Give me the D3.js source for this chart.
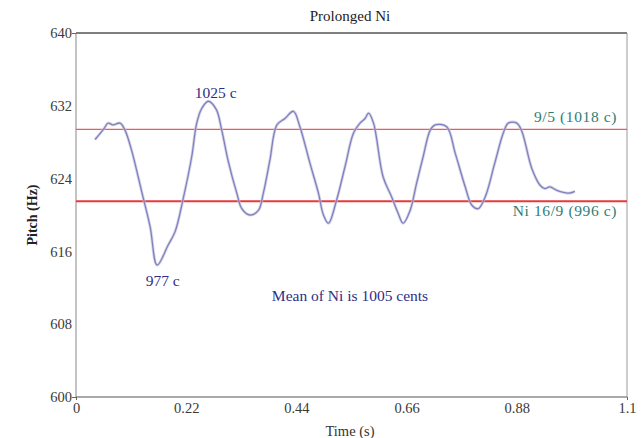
<!DOCTYPE html>
<html><head><meta charset="utf-8">
<script src="https://cdn.jsdelivr.net/npm/d3@7"></script>
<style>
html,body{margin:0;padding:0;background:#fff;}
svg text{font-family:"Liberation Serif","DejaVu Serif","Times New Roman",Times,serif !important;}
</style></head>
<body><svg id="c" width="644" height="438"></svg>
<script>
const timeS = [0.038,0.056,0.064,0.074,0.088,0.098,0.111,0.131,0.148,0.162,0.184,0.198,0.214,0.231,0.241,0.251,0.264,0.280,0.291,0.304,0.321,0.331,0.347,0.364,0.374,0.387,0.401,0.417,0.434,0.447,0.467,0.484,0.494,0.504,0.520,0.537,0.554,0.567,0.577,0.584,0.594,0.613,0.630,0.643,0.653,0.667,0.680,0.693,0.707,0.717,0.740,0.757,0.777,0.790,0.803,0.817,0.836,0.853,0.863,0.880,0.890,0.910,0.926,0.936,0.946,0.960,0.983,0.996];
const pitchHz = [628.3,629.5,630.1,629.9,630.1,629.3,627.1,622.6,618.7,614.5,616.7,618.2,621.8,626.4,630.1,631.7,632.5,631.6,629.3,625.9,622.4,620.7,620.0,620.5,622.4,626.0,629.9,630.6,631.4,629.7,625.7,622.4,620.0,619.1,621.6,625.3,629.0,630.1,630.6,631.2,630.1,624.2,622.0,620.2,619.1,620.5,623.5,626.4,629.3,629.9,629.7,626.8,623.1,621.1,620.7,622.0,625.7,629.0,630.1,630.1,629.2,625.1,623.3,622.9,623.1,622.7,622.4,622.6];
const xTicks = [0,0.22,0.44,0.66,0.88,1.1];
const yTicks = [600,608,616,624,632,640];
const refLines = [629.4, 621.5];
const refLabels = ["9/5 (1018 c)", "Ni 16/9 (996 c)"];
const title = "Prolonged Ni";

const svg = d3.select("#c");
const L=76,R=627,T=33,B=397;
const x = d3.scaleLinear().domain([0,1.1]).range([L,R]);
const y = d3.scaleLinear().domain([600,640]).range([B,T]);

// frame
svg.append("line").attr("x1",L).attr("x2",R).attr("y1",T).attr("y2",T).attr("stroke","#555").attr("stroke-width",1.4);
svg.append("line").attr("x1",L).attr("x2",R).attr("y1",B).attr("y2",B).attr("stroke","#555").attr("stroke-width",1.2);
svg.append("line").attr("x1",L).attr("x2",L).attr("y1",T).attr("y2",B).attr("stroke","#888").attr("stroke-width",1);
svg.append("line").attr("x1",R).attr("x2",R).attr("y1",T).attr("y2",B).attr("stroke","#999").attr("stroke-width",1);

// axes
const yAxis = d3.axisLeft(y).tickValues(yTicks).tickFormat(d3.format("d")).tickSizeOuter(0).tickSize(4);
const gy = svg.append("g").attr("transform",`translate(${L},0)`).call(yAxis);
gy.attr("font-family",null);
gy.select(".domain").remove();
gy.selectAll(".tick line").attr("stroke","#666").attr("opacity",d=>(d===600||d===640)?1:0);
gy.selectAll(".tick text").attr("fill","#3a3a3a").attr("font-size",14.5).attr("x",-4);

const xAxis = d3.axisBottom(x).tickValues(xTicks).tickFormat(d=>d===0?"0":String(d)).tickSizeOuter(0).tickSize(3);
const gx = svg.append("g").attr("transform",`translate(0,${B})`).call(xAxis);
gx.attr("font-family",null);
gx.select(".domain").remove();
gx.selectAll(".tick line").attr("stroke","#666").attr("opacity",d=>(d===0||d===1.1)?1:0);
gx.selectAll(".tick text").attr("fill","#3a3a3a").attr("font-size",14.5).attr("y",6);

// axis titles
svg.append("text").attr("x",350).attr("y",21).attr("text-anchor","middle").attr("font-size",15).attr("fill","#222").text(title);
svg.append("text").attr("x",350).attr("y",436).attr("text-anchor","middle").attr("font-size",14.5).attr("fill","#333").text("Time (s)");
svg.append("text").attr("transform",`translate(37,${(T+B)/2}) rotate(-90)`).attr("text-anchor","middle").attr("font-size",14).attr("font-weight","bold").attr("fill","#222").text("Pitch (Hz)");

// reference lines
svg.selectAll(".ref").data(refLines).enter().append("line")
  .attr("x1",L).attr("x2",R).attr("y1",d=>y(d)).attr("y2",d=>y(d))
  .attr("stroke",(d,i)=>i===0?"#f05a5a":"#e8383a").attr("stroke-width",(d,i)=>i===0?1.2:2);

// pitch curve
const data = timeS.map((t,i)=>[t,pitchHz[i]]);
const line = d3.line().x(d=>x(d[0])).y(d=>y(d[1])).curve(d3.curveCatmullRom.alpha(0.5));
svg.append("path").attr("d",line(data)).attr("fill","none").attr("stroke","#c4c4dc").attr("stroke-width",3).attr("opacity",0.7);
svg.append("path").attr("d",line(data)).attr("fill","none").attr("stroke","#8080c0").attr("stroke-width",1.3);

// annotations
const navy = "#2e2e86", teal = "#2e7d72";
const fs = 15.5;
svg.append("text").attr("x",x(0.279)).attr("y",y(632.9)).attr("text-anchor","middle").attr("font-size",fs).attr("fill",navy).text("1025 c");
svg.append("text").attr("x",x(0.173)).attr("y",y(612.2)).attr("text-anchor","middle").attr("font-size",fs).attr("fill",navy).text("977 c");
svg.append("text").attr("x",x(0.547)).attr("y",y(610.6)).attr("text-anchor","middle").attr("font-size",fs).attr("fill",navy).text("Mean of Ni is 1005 cents");
svg.append("text").attr("x",x(1.080)).attr("y",y(refLines[0])-7).attr("text-anchor","end").attr("font-size",fs).attr("letter-spacing",0.6).attr("fill",teal).text(refLabels[0]);
svg.append("text").attr("x",x(1.080)).attr("y",y(refLines[1])+15).attr("text-anchor","end").attr("font-size",fs).attr("letter-spacing",0.6).attr("fill",teal).text(refLabels[1]);
</script></body></html>
